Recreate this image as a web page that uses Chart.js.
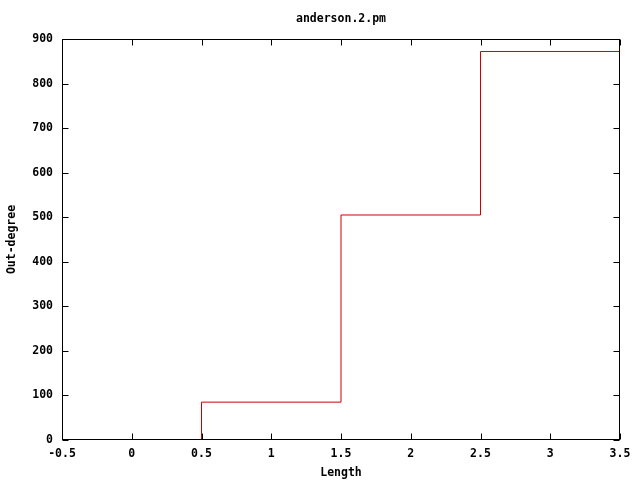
<!DOCTYPE html>
<html>
<head>
<meta charset="utf-8">
<script src="https://cdn.jsdelivr.net/npm/chart.js@4"></script>
<style>
  html, body { margin: 0; padding: 0; background: #fff; }
  #wrap { width: 640px; height: 480px; }
</style>
</head>
<body>
<div id="wrap"><canvas id="myChart" width="640" height="480"></canvas></div>
<script>
// histogram bins (centres) and their heights
const lengths = [0, 1, 2, 3];
const outDegree = [0, 85, 505, 872];
const xTickValues = [-0.5, 0, 0.5, 1, 1.5, 2, 2.5, 3, 3.5];
const yTickValues = [0, 100, 200, 300, 400, 500, 600, 700, 800, 900];

// histeps: left edge of each bin, plus the right edge of the last one
const steps = lengths.map((x, i) => ({ x: x - 0.5, y: outDegree[i] }));
steps.push({ x: lengths[lengths.length - 1] + 0.5, y: outDegree[outDegree.length - 1] });

const font = { family: 'DejaVu Sans Mono', size: 11.5, weight: 'bold' };

function edges(chart) {
  const a = chart.chartArea;
  return {
    L: Math.round(a.left) + 0.5, R: Math.round(a.right) - 0.5,
    T: Math.round(a.top) + 0.5, B: Math.round(a.bottom) - 0.5
  };
}

// gnuplot style: inward ticks on all four sides under the data, frame on top
const frame = {
  id: 'frame',
  beforeDatasetsDraw(chart) {
    const { ctx, scales } = chart;
    const { L, R, T, B } = edges(chart);
    const len = 6;
    ctx.save();
    ctx.strokeStyle = '#000';
    ctx.lineWidth = 1;
    ctx.beginPath();
    xTickValues.forEach(v => {
      const px = Math.round(scales.x.getPixelForValue(v)) + 0.5;
      ctx.moveTo(px, B); ctx.lineTo(px, B - len);
      ctx.moveTo(px, T); ctx.lineTo(px, T + len);
    });
    yTickValues.forEach(v => {
      const py = Math.round(scales.y.getPixelForValue(v)) + 0.5;
      ctx.moveTo(L, py); ctx.lineTo(L + len, py);
      ctx.moveTo(R, py); ctx.lineTo(R - len, py);
    });
    ctx.stroke();
    ctx.restore();
  },
  afterDatasetsDraw(chart) {
    const { ctx } = chart;
    const { L, R, T, B } = edges(chart);
    ctx.save();
    ctx.strokeStyle = '#000';
    ctx.lineWidth = 1;
    ctx.strokeRect(L, T, R - L, B - T);
    ctx.restore();
  }
};

const ctx = document.getElementById('myChart');

const chrt = new Chart(ctx, {
  type: 'line',
  data: {
    datasets: [{
      data: steps,
      stepped: 'before',
      borderColor: '#d00000',
      borderWidth: 1,
      pointRadius: 0,
      fill: false
    }]
  },
  options: {
    responsive: false,
    animation: false,
    layout: { padding: { left: 0, right: 20, top: 0, bottom: 0 } },
    plugins: {
      legend: { display: false },
      tooltip: { enabled: false }
    },
    scales: {
      // top axis only carries the plot title, centred over the plot area
      top: {
        type: 'linear',
        position: 'top',
        min: -0.5,
        max: 3.5,
        afterFit: s => { s.height = 39; },
        grid: { display: false, drawTicks: false },
        border: { display: false },
        ticks: { display: false },
        title: {
          display: true,
          text: 'anderson.2.pm',
          color: '#000',
          font: font,
          padding: { top: 12, bottom: 0 }
        }
      },
      x: {
        type: 'linear',
        min: -0.5,
        max: 3.5,
        afterBuildTicks: s => { s.ticks = xTickValues.map(v => ({ value: v })); },
        afterFit: s => { s.height = 40; },
        grid: { display: false, drawTicks: false },
        border: { display: false },
        ticks: {
          color: '#000',
          font: font,
          padding: 7,
          maxRotation: 0,
          autoSkip: false,
          callback: v => String(v)
        },
        title: {
          display: true,
          text: 'Length',
          color: '#000',
          font: font,
          padding: { top: 2, bottom: 0 }
        }
      },
      y: {
        min: 0,
        max: 900,
        afterBuildTicks: s => { s.ticks = yTickValues.map(v => ({ value: v })); },
        afterFit: s => { s.width = 62; },
        grid: { display: false, drawTicks: false },
        border: { display: false },
        ticks: {
          color: '#000',
          font: font,
          padding: 9,
          callback: v => String(v)
        },
        title: {
          display: true,
          text: 'Out-degree',
          color: '#000',
          font: font,
          padding: { top: 5, bottom: 0 }
        }
      }
    }
  },
  plugins: [frame]
});
</script>
</body>
</html>
